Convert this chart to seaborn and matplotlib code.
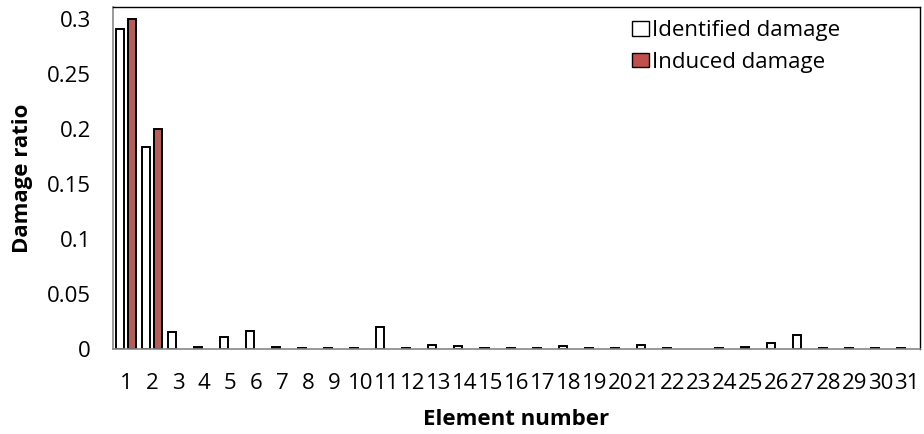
import numpy as np
import pandas as pd
import matplotlib
matplotlib.use("Agg")
import matplotlib.pyplot as plt
from matplotlib.patches import Patch
import seaborn as sns

elements = [str(i) for i in range(1, 32)]
identified = [0.291, 0.184, 0.0157, 0.002, 0.011, 0.0164, 0.0015, 0.001, 0.0005, 0.0005,
              0.0197, 0.0005, 0.0036, 0.003, 0.001, 0.0005, 0.0005, 0.003, 0.0005, 0.0005,
              0.0035, 0.0005, 0.0, 0.0005, 0.0015, 0.005, 0.0127, 0.0005, 0.0005, 0.0005, 0.0005]
induced = [0.3, 0.2] + [0.0] * 29
series = ['Identified damage', 'Induced damage']
colors = ['white', '#C0504D']

df = pd.DataFrame({
    'Element': elements * 2,
    'Damage': identified + induced,
    'Type': [series[0]] * 31 + [series[1]] * 31,
})

sns.set_style('white')
plt.rcParams['font.family'] = ['Open Sans', 'DejaVu Sans']
plt.rcParams['text.color'] = 'black'
plt.rcParams['axes.labelcolor'] = 'black'
plt.rcParams['xtick.color'] = 'black'
plt.rcParams['ytick.color'] = 'black'

fs = 16

fig = plt.figure(figsize=(9.24, 4.34), dpi=100)
ax = fig.add_axes([0.1223, 0.1959, 0.8734, 0.788])
sns.barplot(data=df, x='Element', y='Damage', hue='Type',
            palette=colors, edgecolor='black', linewidth=1.4,
            width=0.92, gap=0.33, ax=ax, legend=False)

# Excel draws nothing for zero values
for p in ax.patches:
    if p.get_height() == 0:
        p.set_visible(False)

ax.set_ylim(0, 0.311)
ax.set_xlim(-0.5, 30.5)
ax.set_yticks([0, 0.05, 0.1, 0.15, 0.2, 0.25, 0.3])
ax.set_yticklabels(['0', '0.05', '0.1', '0.15', '0.2', '0.25', '0.3'])
ax.tick_params(axis='y', direction='in', length=5, color='#868686', labelsize=fs, pad=16)
ax.tick_params(axis='x', length=0, labelsize=fs, pad=17)

for s in ['left', 'bottom']:
    ax.spines[s].set_color('#868686')
    ax.spines[s].set_linewidth(1.2)
for s in ['top', 'right']:
    ax.spines[s].set_color('black')
    ax.spines[s].set_linewidth(1.0)

ax.set_xlabel('Element number', fontsize=fs, fontweight='bold', labelpad=11)
ax.set_ylabel('Damage ratio', fontsize=fs, fontweight='bold', labelpad=10)

handles = [Patch(facecolor=c, edgecolor='black', linewidth=1.0) for c in colors]
ax.legend(handles, series, loc='upper right', bbox_to_anchor=(0.918, 1.0), frameon=False,
          fontsize=fs, handlelength=0.75, handleheight=0.6,
          handletextpad=0.15, labelspacing=0.47, borderaxespad=0.2)

fig.savefig('out.png', dpi=100)
